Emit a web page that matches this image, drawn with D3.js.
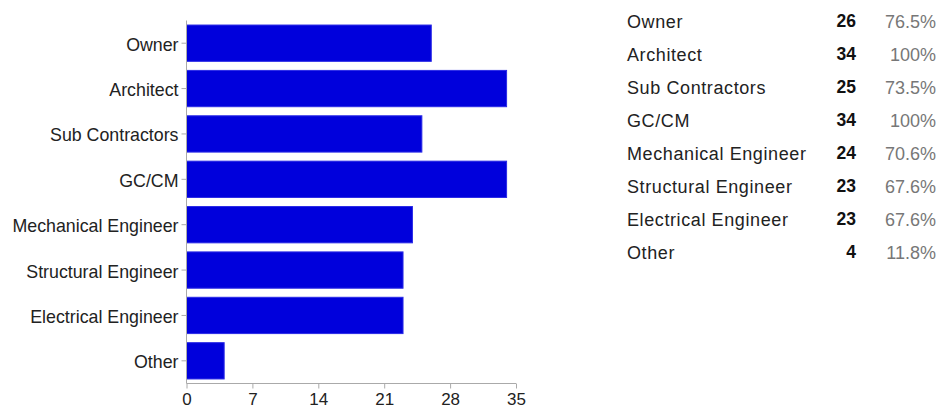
<!DOCTYPE html>
<html>
<head>
<meta charset="utf-8">
<script src="https://cdn.jsdelivr.net/npm/d3@7"></script>
<style>
  html, body { margin: 0; padding: 0; background: #fff; }
  svg { display: block; font-family: "Liberation Sans", Arial, sans-serif; }
</style>
</head>
<body>
<svg id="chart" width="940" height="411"></svg>
<script>
// Survey responses by project role
const categories = ["Owner", "Architect", "Sub Contractors", "GC/CM", "Mechanical Engineer", "Structural Engineer", "Electrical Engineer", "Other"];
const counts = [26, 34, 25, 34, 24, 23, 23, 4];
const percents = ["76.5%", "100%", "73.5%", "100%", "70.6%", "67.6%", "67.6%", "11.8%"];
const xTicks = [0, 7, 14, 21, 28, 35];

const svg = d3.select("#chart");

const plot = { left: 186.5, right: 516, top: 20.5, bottom: 383.5 };

const x = d3.scaleLinear().domain([0, 35]).range([plot.left, plot.right]);
const y = d3.scaleBand().domain(categories).range([plot.top, plot.bottom]).paddingInner(0.2).paddingOuter(0.1);

// bars
svg.append("g").selectAll("rect")
  .data(categories)
  .join("rect")
  .attr("x", x(0))
  .attr("y", d => y(d))
  .attr("width", (d, i) => x(counts[i]) - x(0))
  .attr("height", y.bandwidth())
  .attr("fill", "#0000dc")
  .attr("stroke", "#2a2ae6")
  .attr("stroke-width", 1);

// y axis
const yAxis = svg.append("g")
  .attr("transform", `translate(${plot.left},0)`)
  .call(d3.axisLeft(y).tickSize(5).tickPadding(3));
yAxis.select(".domain").attr("stroke", "#aaa").attr("d", `M0,${plot.top}V${plot.bottom}`);
yAxis.selectAll(".tick line").attr("stroke", "#aaa");
yAxis.selectAll(".tick text").attr("fill", "#222").attr("font-size", 17.8).attr("dy", "0.42em")
  .attr("font-family", "Liberation Sans, Arial, sans-serif");

// x axis
const xAxis = svg.append("g")
  .attr("transform", `translate(0,${plot.bottom})`)
  .call(d3.axisBottom(x).tickValues(xTicks).tickSize(5).tickPadding(4));
xAxis.select(".domain").attr("stroke", "#aaa").attr("d", `M${plot.left},0H${plot.right}`);
xAxis.selectAll(".tick line").attr("stroke", "#aaa");
xAxis.selectAll(".tick text").attr("fill", "#222").attr("font-size", 17).attr("font-family", "Liberation Sans, Arial, sans-serif");

// summary table
const rowY = d3.scaleBand().domain(categories).range([4.7, 268.7]);
const table = svg.append("g");
const rows = table.selectAll("g").data(categories).join("g")
  .attr("transform", d => `translate(0,${rowY(d) + rowY.bandwidth() / 2})`);
rows.append("text")
  .attr("x", 627).attr("dy", "0.35em")
  .attr("font-size", 18).attr("letter-spacing", 0.6).attr("fill", "#222")
  .text(d => d);
rows.append("text")
  .attr("x", 856).attr("dy", "0.35em")
  .attr("text-anchor", "end").attr("font-size", 17.5).attr("font-weight", "bold").attr("fill", "#111")
  .text((d, i) => counts[i]);
rows.append("text")
  .attr("x", 936).attr("dy", "0.35em")
  .attr("text-anchor", "end").attr("font-size", 18).attr("fill", "#777")
  .text((d, i) => percents[i]);
</script>
</body>
</html>
